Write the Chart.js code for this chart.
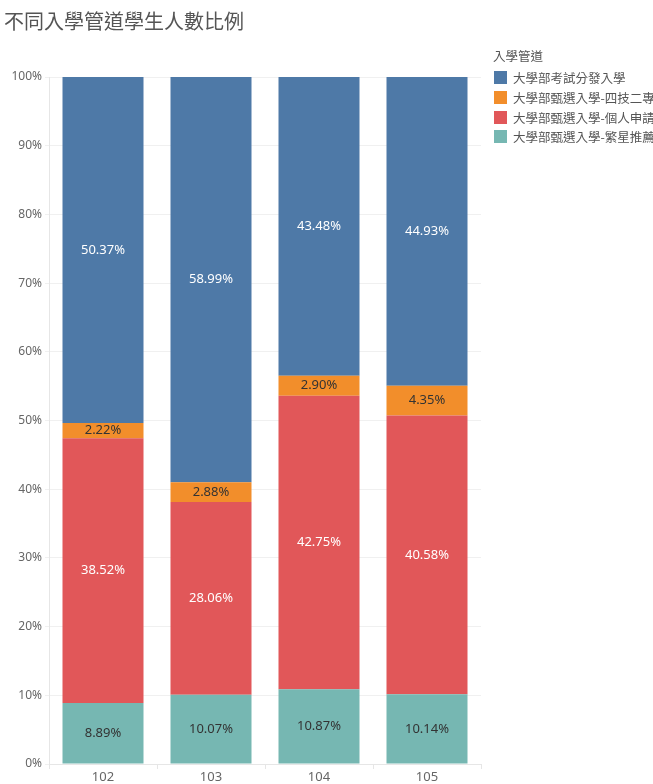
<!DOCTYPE html>
<html>
<head>
<meta charset="utf-8">
<script src="https://cdn.jsdelivr.net/npm/chart.js@4.4.1/dist/chart.umd.min.js"></script>
<style>
  html, body { margin: 0; padding: 0; background: #fff; overflow: hidden; }
  #wrap { position: relative; width: 653px; height: 784px; overflow: hidden; font-family: "Noto Sans CJK TC", "Noto Sans", sans-serif; }
  #title { position: absolute; left: 4px; top: 6px; font-size: 20px; color: #555; white-space: nowrap; }
  #legend { position: absolute; left: 493px; top: 46px; font-size: 12.5px; color: #555; white-space: nowrap; }
  #legend .lt { color: #555; font-weight: normal; margin-bottom: 3px; }
  #legend .item { height: 19.7px; display: flex; align-items: center; }
  #legend .sw { width: 13px; height: 13px; margin-left: 1px; margin-right: 6px; }
  canvas { position: absolute; left: 0; top: 0; }
</style>
</head>
<body>
<div id="wrap">
  <canvas id="c" width="653" height="784"></canvas>
  <div id="title">不同入學管道學生人數比例</div>
  <div id="legend"></div>
</div>
<script>
// school years (民國)
const years = ['102', '103', '104', '105'];

// percentages per admission channel, bottom of stack first
const starPct = [8.89, 10.07, 10.87, 10.14];       // 繁星推薦
const applyPct = [38.52, 28.06, 42.75, 40.58];     // 個人申請
const techPct = [2.22, 2.88, 2.90, 4.35];          // 四技二專
const examPct = [50.37, 58.99, 43.48, 44.93];      // 考試分發

const yTicks = [0, 10, 20, 30, 40, 50, 60, 70, 80, 90, 100];

const series = [
    { label: '大學部甄選入學-繁星推薦', data: starPct, color: '#76b7b2', text: '#333' },
    { label: '大學部甄選入學-個人申請', data: applyPct, color: '#e15759', text: '#fff' },
    { label: '大學部甄選入學-四技二專', data: techPct, color: '#f28e2b', text: '#333' },
    { label: '大學部考試分發入學', data: examPct, color: '#4e79a7', text: '#fff' }
];

// html legend, top of stack listed first like the original
var legend = document.getElementById('legend');
legend.innerHTML = '<div class="lt">入學管道</div>' +
    series.slice().reverse().map(s =>
        '<div class="item"><span class="sw" style="background:' + s.color + '"></span>' + s.label + '</div>'
    ).join('');

// draws the value in the middle of every segment
const segLabels = {
    id: 'segLabels',
    afterDatasetsDraw(chart) {
        const ctx = chart.ctx;
        ctx.save();
        ctx.font = '13px "Noto Sans", sans-serif';
        ctx.textAlign = 'center';
        ctx.textBaseline = 'middle';
        chart.data.datasets.forEach((ds, i) => {
            chart.getDatasetMeta(i).data.forEach((bar, j) => {
                ctx.fillStyle = series[i].text;
                ctx.fillText(ds.data[j].toFixed(2) + '%', bar.x, (bar.y + bar.base) / 2);
            });
        });
        ctx.restore();
    }
};

var ctx = document.getElementById('c').getContext('2d');
var chart = new Chart(ctx, {
    type: 'bar',
    data: {
        labels: years,
        datasets: series.map(s => ({
            label: s.label,
            data: s.data,
            backgroundColor: s.color,
            borderWidth: 0,
            categoryPercentage: 0.75,
            barPercentage: 1
        }))
    },
    options: {
        responsive: false,
        animation: false,
        layout: { padding: { top: 77, right: 172, bottom: 0, left: 0 } },
        plugins: {
            legend: { display: false },
            tooltip: { enabled: false }
        },
        scales: {
            x: {
                stacked: true,
                grid: { offset: true, drawOnChartArea: false, tickLength: 5, color: '#e6e6e6' },
                border: { color: '#e6e6e6' },
                ticks: { color: '#666', font: { size: 13, family: '"Noto Sans", sans-serif' }, padding: 0 },
                afterFit: scale => { scale.height = 20; }
            },
            y: {
                stacked: true,
                min: 0,
                max: 100,
                afterBuildTicks: scale => { scale.ticks = yTicks.map(v => ({ value: v })); },
                grid: { color: '#f0f0f0', tickLength: 4 },
                border: { color: '#e6e6e6' },
                ticks: {
                    color: '#666',
                    padding: 3,
                    font: { size: 12, family: '"Noto Sans", sans-serif' },
                    callback: v => v + '%'
                },
                afterFit: scale => { scale.width = 49; }
            }
        }
    },
    plugins: [segLabels]
});
</script>
</body>
</html>
